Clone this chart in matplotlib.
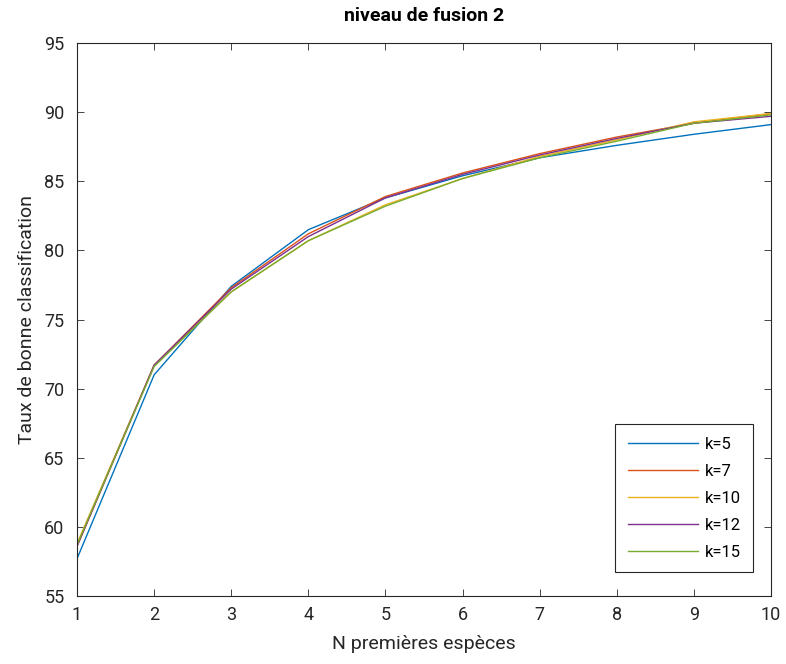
import matplotlib
matplotlib.use('Agg')
import matplotlib.pyplot as plt

plt.rcParams['font.family'] = ['Roboto', 'DejaVu Sans']

# nombre d'especes
n_especes = [1, 2, 3, 4, 5, 6, 7, 8, 9, 10]

# taux de bonne classification pour chaque k
k5 = [57.7, 71.0, 77.4, 81.5, 83.8, 85.4, 86.7, 87.6, 88.4, 89.1]
k7 = [58.6, 71.7, 77.3, 81.2, 83.9, 85.6, 87.0, 88.2, 89.2, 89.9]
k10 = [58.8, 71.7, 77.0, 80.7, 83.3, 85.2, 86.8, 88.0, 89.3, 89.9]
k12 = [58.6, 71.7, 77.2, 81.0, 83.8, 85.5, 86.9, 88.1, 89.2, 89.7]
k15 = [58.7, 71.6, 77.0, 80.7, 83.2, 85.2, 86.7, 87.9, 89.2, 89.8]

labels = ['k=5', 'k=7', 'k=10', 'k=12', 'k=15']
couleurs = ['#0072BD', '#D95319', '#EDB120', '#7E2F8E', '#77AC30']

fig = plt.figure(figsize=(7.86, 6.64), dpi=100)
ax = fig.add_axes([0.098, 0.1024, 0.883, 0.8328])

for serie, lab, c in zip([k5, k7, k10, k12, k15], labels, couleurs):
    ax.plot(n_especes, serie, color=c, linewidth=1.0, label=lab)

ax.set_xlim(1, 10)
ax.set_ylim(55, 95)
ax.set_xticks(range(1, 11))
ax.set_yticks(range(55, 96, 5))
ax.tick_params(direction='in', top=True, right=True, labelsize=13,
               colors='#262626', length=5, width=0.6)
ax.tick_params(axis='x', pad=7)
ax.tick_params(axis='y', pad=9)
for s in ax.spines.values():
    s.set_color('#262626')
    s.set_linewidth(0.8)

ax.set_title('niveau de fusion 2', fontsize=14, fontweight='bold', pad=16)
ax.set_xlabel('N premières espèces', fontsize=14, color='#262626', labelpad=8)
ax.set_ylabel('Taux de bonne classification', fontsize=14, color='#262626',
              labelpad=6)

leg = ax.legend(loc='lower right', bbox_to_anchor=(0.974, 0.0434),
                fontsize=12, fancybox=False, edgecolor='#262626',
                framealpha=1, handlelength=4.2, handletextpad=0.4,
                borderaxespad=0, labelspacing=0.72, borderpad=0.75)
leg.get_frame().set_linewidth(0.8)

fig.savefig('out.png', dpi=100)
